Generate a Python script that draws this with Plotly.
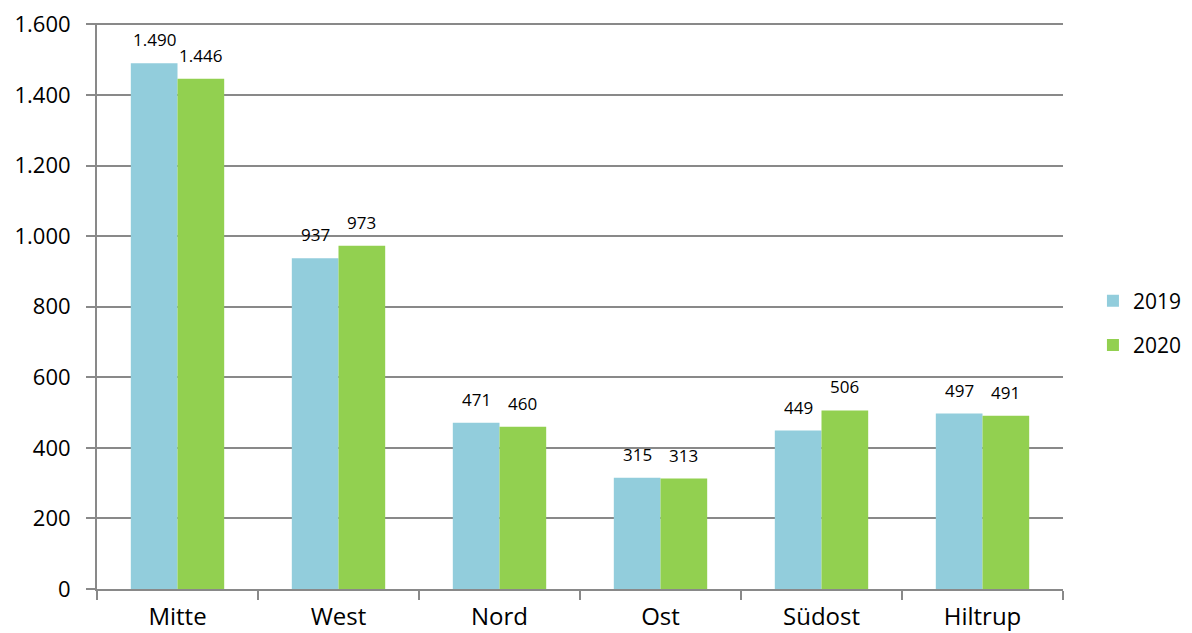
import plotly.graph_objects as go

categories = ["Mitte", "West", "Nord", "Ost", "Südost", "Hiltrup"]
values_2019 = [1490, 937, 471, 315, 449, 497]
values_2020 = [1446, 973, 460, 313, 506, 491]
series_names = ["2019", "2020"]
colors = ["#92CDDC", "#92D050"]
y_ticks = [0, 200, 400, 600, 800, 1000, 1200, 1400, 1600]

FONT = "Open Sans"
GRID = "#898989"

fig = go.Figure()
for i, (name, vals) in enumerate(zip(series_names, [values_2019, values_2020])):
    fig.add_trace(go.Bar(
        name=name, x=categories, y=vals,
        marker=dict(color=colors[i], line=dict(width=0)),
        legendgroup=name,
        offsetgroup=str(i),
    ))

# data labels as annotations placed via axes
annotations = []
for i, vals in enumerate([values_2019, values_2020]):
    for j, (c, v) in enumerate(zip(categories, vals)):
        annotations.append(dict(
            x=j + (-0.145 if i == 0 else 0.145), y=v, xref="x", yref="y",
            text=f"{v:,}".replace(",", "."), showarrow=False,
            yanchor="bottom", yshift=10,
            font=dict(family=FONT, size=17, color="#000000"),
        ))

fig.update_layout(
    width=1184, height=625,
    margin=dict(l=89, r=129, t=15, b=44, pad=0, autoexpand=False),
    paper_bgcolor="white", plot_bgcolor="white",
    barmode="group", bargap=0.42, bargroupgap=0,
    separators=",.",
    font=dict(family=FONT, color="#000000"),
    annotations=annotations,
    legend=dict(
        x=1.031, y=0.47, xanchor="left", yanchor="middle",
        font=dict(family=FONT, size=21, color="#000000"),
        tracegroupgap=14, traceorder="grouped",
        itemwidth=30,
    ),
    xaxis=dict(
        type="category", automargin=False,
        showline=True, linecolor=GRID, linewidth=2,
        ticks="outside", tickson="boundaries", ticklen=9, tickcolor=GRID, tickwidth=2,
        tickfont=dict(family=FONT, size=24, color="#000000"),
        ticklabelstandoff=5, ticklabeloverflow="allow",
        showgrid=False,
    ),
    yaxis=dict(
        range=[0, 1604], tickvals=y_ticks, tickformat=",d", automargin=False,
        showline=True, linecolor=GRID, linewidth=2,
        ticks="outside", ticklen=9, tickcolor=GRID, tickwidth=2,
        showgrid=True, gridcolor=GRID, gridwidth=2,
        tickfont=dict(family=FONT, size=22, color="#000000"),
        ticklabelstandoff=11, ticklabeloverflow="allow",
        zeroline=False,
    ),
)

fig.write_html("out.html")
